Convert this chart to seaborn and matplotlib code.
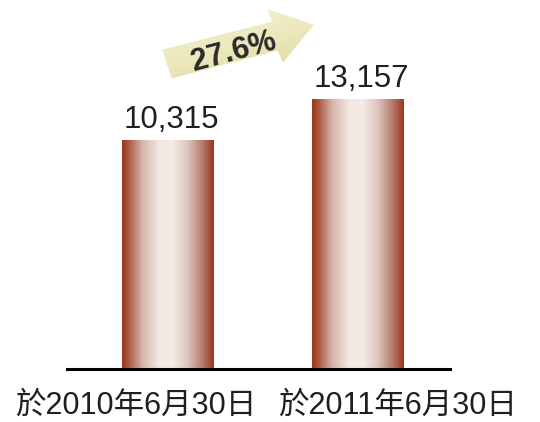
import numpy as np
import matplotlib
matplotlib.use("Agg")
import matplotlib.pyplot as plt
import seaborn as sns
import pandas as pd
from matplotlib.colors import LinearSegmentedColormap
from matplotlib.patches import Polygon

# data
periods = ["於2010年6月30日", "於2011年6月30日"]
totals = [10315, 13157]
growth_label = "27.6%"

sns.set_theme(style="white")
plt.rcParams['font.family'] = ['Liberation Sans', 'Noto Sans CJK TC', 'DejaVu Sans']

W, H, DPI = 540, 422, 100
fig = plt.figure(figsize=(W / DPI, H / DPI), dpi=DPI)
fig.patch.set_facecolor('white')

# plot area: baseline 369 px from the top, running from x=67 to x=450
ax = fig.add_axes([67 / W, (H - 369) / H, (450 - 67) / W, 369 / H])
ax.set_facecolor('white')
df = pd.DataFrame({"period": periods, "total": totals})
sns.barplot(data=df, x="period", y="total", ax=ax, width=0.484,
            color="#9b3b1f", errorbar=None)

y_floor = -5558
y_top = y_floor + 369 / 0.014427
x_lim = (-0.532, 1.484)

# horizontal cylinder-like shading for the bars
bar_cmap = LinearSegmentedColormap.from_list("cyl", [
    (0.00, "#9a361b"),
    (0.06, "#a9523a"),
    (0.22, "#d5b5ab"),
    (0.40, "#f3e7e2"),
    (0.55, "#f5ebe7"),
    (0.72, "#dcc4bd"),
    (0.88, "#b37a6b"),
    (1.00, "#9a361b"),
])
grad = np.linspace(0, 1, 256).reshape(1, -1)
for p, v in zip(ax.patches, totals):
    x0, w = p.get_x(), p.get_width()
    p.set_y(y_floor)
    p.set_height(v - y_floor)
    p.set_facecolor("none")
    p.set_edgecolor("none")
    im = ax.imshow(grad, cmap=bar_cmap, aspect="auto", interpolation="bicubic",
                   extent=(x0, x0 + w, y_floor, v), zorder=2)
    im.set_clip_path(p)

ax.set_xlim(*x_lim)
ax.set_ylim(y_floor, y_top)

# value labels above the bars
for i, v in enumerate(totals):
    ax.annotate(f"{v:,}", (i, v), xytext=(2.5, 8.6), textcoords="offset points",
                ha="center", va="baseline", fontsize=22.5, color="#1f1f1f")

# category labels, spread slightly outward from the bars
label_shift = [-0.172, 0.21]
for i, lab in enumerate(periods):
    ax.text(i + label_shift[i], -0.098, lab, transform=ax.get_xaxis_transform(),
            ha="center", va="center", fontsize=22, color="#1f1f1f")

ax.set_xticks([])
ax.set_yticks([])
ax.set_xlabel("")
ax.set_ylabel("")
sns.despine(ax=ax, left=True, top=True, right=True)
ax.spines["bottom"].set_color("black")
ax.spines["bottom"].set_linewidth(2.2)
ax.spines["bottom"].set_zorder(3)

# growth arrow overlay in pixel coordinates
oax = fig.add_axes([0, 0, 1, 1])
oax.set_xlim(0, W)
oax.set_ylim(H, 0)
oax.axis("off")
oax.patch.set_alpha(0)

arrow_pts = [(163, 50), (273, 22), (268, 10), (313, 25),
             (283, 62), (278, 50), (172, 78)]
arrow = Polygon(arrow_pts, closed=True, facecolor="none",
                edgecolor="#dcd79c", linewidth=0.8, linestyle=(0, (1, 1)))
oax.add_patch(arrow)

ang = np.deg2rad(15)
gx0, gx1, gy0, gy1 = 158, 318, 6, 82
xs = np.linspace(gx0, gx1, 200)
ys = np.linspace(gy0, gy1, 100)
XX, YY = np.meshgrid(xs, ys)
T = (XX - 238) * np.sin(ang) + (YY - 44) * np.cos(ang)
T = (T - T.min()) / (T.max() - T.min())
arrow_cmap = LinearSegmentedColormap.from_list("arr", ["#f6f4da", "#ecE9bd", "#dad592"])
aim = oax.imshow(T, cmap=arrow_cmap, origin="upper", aspect="auto",
                 extent=(gx0, gx1, gy1, gy0), interpolation="bilinear", zorder=1)
aim.set_clip_path(arrow)
oax.set_xlim(0, W)
oax.set_ylim(H, 0)

oax.text(234, 52, growth_label, rotation=15, rotation_mode="anchor",
         ha="center", va="center", fontsize=22, fontweight="bold",
         color="#2a2a2a", zorder=3)

fig.savefig("out.png", dpi=DPI, facecolor="white")
